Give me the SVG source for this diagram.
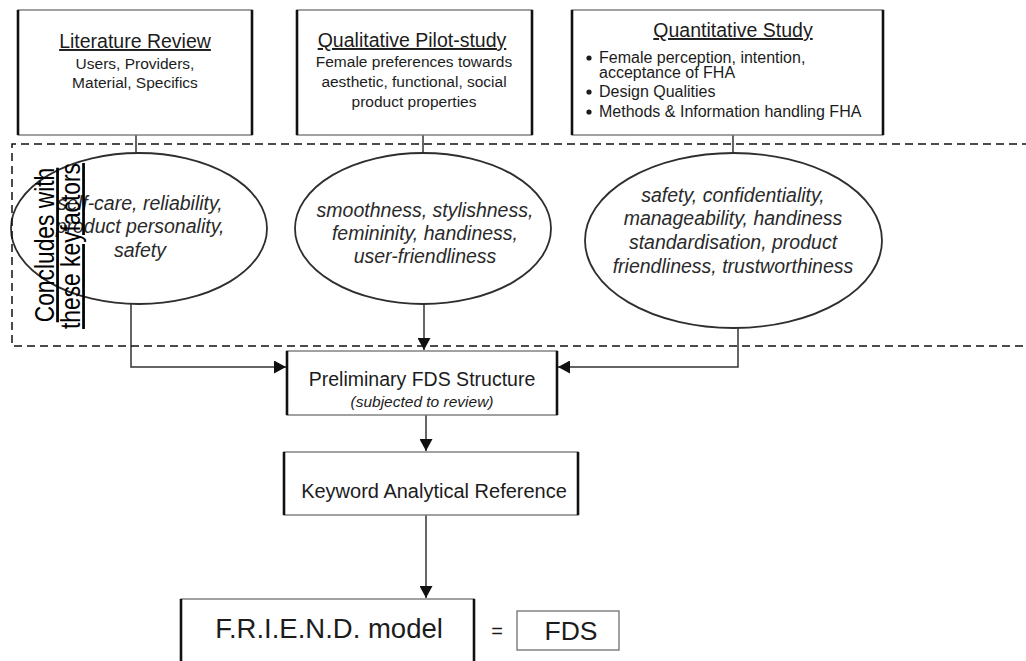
<svg xmlns="http://www.w3.org/2000/svg" width="1026" height="661" viewBox="0 0 1026 661">
  <style>
    text { font-family: "Liberation Sans", Arial, sans-serif; fill: #1c1c1c; }
    .hd { font-size: 19.5px; text-anchor: middle; text-decoration: underline; }
    .sub { font-size: 15.5px; text-anchor: middle; }
    .bl { font-size: 16px; }
    .kf { font-size: 19.5px; font-style: italic; text-anchor: middle; fill: #2a2a2a; }
    .mid { text-anchor: middle; }
    .box { fill: #fff; stroke: #7a7a7a; stroke-width: 1.4; }
    .side { stroke: #111; stroke-width: 2.6; }
    .ell { fill: #fff; stroke: #2e2e2e; stroke-width: 1.8; }
    .wire { fill: none; stroke: #333; stroke-width: 1.5; }
    .frame { fill: none; stroke: #111; stroke-width: 1.5; stroke-dasharray: 8 5; }
    .vlabel { font-size: 22.8px; fill: #000; text-anchor: middle; text-decoration: underline; }
  </style>
  <defs>
    <marker id="arrow" markerUnits="userSpaceOnUse" markerWidth="13" markerHeight="13" refX="12" refY="6.5" orient="auto">
      <path d="M0,0 L12,6.5 L0,13 Z" fill="#111"/>
    </marker>
  </defs>

  <rect width="1026" height="661" fill="#fff"/>

  <!-- connectors -->
  <g id="connectors">
    <line class="wire" x1="136" y1="135" x2="136" y2="153"/>
    <line class="wire" x1="423" y1="135" x2="423" y2="153"/>
    <line class="wire" x1="733" y1="135" x2="733" y2="153"/>
    <polyline class="wire" points="131,304 131,367 286,367" marker-end="url(#arrow)"/>
    <line class="wire" x1="424" y1="304" x2="424" y2="350" marker-end="url(#arrow)"/>
    <polyline class="wire" points="738,328 738,367 558,367" marker-end="url(#arrow)"/>
    <line class="wire" x1="426" y1="415" x2="426" y2="451" marker-end="url(#arrow)"/>
    <line class="wire" x1="426" y1="515" x2="426" y2="598" marker-end="url(#arrow)"/>
  </g>

  <!-- source boxes -->
  <g id="literature-review">
    <rect class="box" x="18" y="10" width="234" height="125"/>
    <line class="side" x1="18" y1="10" x2="18" y2="135"/>
    <line class="side" x1="252" y1="10" x2="252" y2="135"/>
    <text class="hd" x="135" y="48">Literature Review</text>
    <text class="sub" x="135" y="69">Users, Providers,</text>
    <text class="sub" x="135" y="88">Material, Specifics</text>
  </g>

  <g id="qualitative-pilot">
    <rect class="box" x="297" y="10" width="235" height="125"/>
    <line class="side" x1="297" y1="10" x2="297" y2="135"/>
    <line class="side" x1="532" y1="10" x2="532" y2="135"/>
    <text class="hd" x="412" y="47">Qualitative Pilot-study</text>
    <text class="sub" x="414" y="67">Female preferences towards</text>
    <text class="sub" x="414" y="87">aesthetic, functional, social</text>
    <text class="sub" x="414" y="107">product properties</text>
  </g>

  <g id="quantitative-study">
    <rect class="box" x="572" y="10" width="311" height="125"/>
    <line class="side" x1="572" y1="10" x2="572" y2="135"/>
    <line class="side" x1="883" y1="10" x2="883" y2="135"/>
    <text class="hd" x="733" y="37">Quantitative Study</text>
    <circle cx="589" cy="58" r="2.6" fill="#1c1c1c"/>
    <text class="bl" x="599" y="63">Female perception, intention,</text>
    <text class="bl" x="599" y="78">acceptance of FHA</text>
    <circle cx="589" cy="92" r="2.6" fill="#1c1c1c"/>
    <text class="bl" x="599" y="97">Design Qualities</text>
    <circle cx="589" cy="112" r="2.6" fill="#1c1c1c"/>
    <text class="bl" x="599" y="117">Methods &amp; Information handling FHA</text>
  </g>

  <!-- key factor ellipses -->
  <g id="factors-literature">
    <ellipse class="ell" cx="139" cy="228.5" rx="128" ry="75.5"/>
    <text class="kf" x="140" y="210">self-care, reliability,</text>
    <text class="kf" x="140" y="233">product personality,</text>
    <text class="kf" x="140" y="257">safety</text>
  </g>

  <g id="factors-qualitative">
    <ellipse class="ell" cx="423" cy="228.5" rx="128" ry="75.5"/>
    <text class="kf" x="425" y="217">smoothness, stylishness,</text>
    <text class="kf" x="425" y="240">femininity, handiness,</text>
    <text class="kf" x="425" y="263">user-friendliness</text>
  </g>

  <g id="factors-quantitative">
    <ellipse class="ell" cx="733.5" cy="240.5" rx="148.5" ry="87.5"/>
    <text class="kf" x="733" y="202">safety, confidentiality,</text>
    <text class="kf" x="733" y="225">manageability, handiness</text>
    <text class="kf" x="733" y="249">standardisation, product</text>
    <text class="kf" x="733" y="273">friendliness, trustworthiness</text>
  </g>

  <!-- dashed frame around the key factors with its vertical caption -->
  <g id="keyfactor-frame">
    <path class="frame" d="M1030,144 H12 V346 H1030"/>
    <text class="vlabel" transform="translate(54,245) rotate(-90) scale(1,1.2)">Concludes with</text>
    <text class="vlabel" transform="translate(80,246) rotate(-90) scale(1,1.2)">these keyfactors</text>
  </g>

  <!-- synthesis steps -->
  <g id="preliminary-fds">
    <rect class="box" x="287" y="351" width="270" height="64"/>
    <line class="side" x1="287" y1="351" x2="287" y2="415"/>
    <line class="side" x1="557" y1="351" x2="557" y2="415"/>
    <text class="mid" x="422" y="386" font-size="19.5">Preliminary FDS Structure</text>
    <text class="mid" x="422" y="407" font-size="15.5" font-style="italic">(subjected to review)</text>
  </g>

  <g id="keyword-reference">
    <rect class="box" x="284" y="452" width="294" height="63"/>
    <line class="side" x1="284" y1="452" x2="284" y2="515"/>
    <line class="side" x1="578" y1="452" x2="578" y2="515"/>
    <text class="mid" x="434" y="498" font-size="20">Keyword Analytical Reference</text>
  </g>

  <g id="friend-model">
    <rect class="box" x="181" y="599" width="293" height="75"/>
    <line class="side" x1="181" y1="599" x2="181" y2="661"/>
    <line class="side" x1="474" y1="599" x2="474" y2="661"/>
    <text class="mid" x="329" y="638" font-size="27.5">F.R.I.E.N.D. model</text>
  </g>

  <text class="mid" x="497" y="638" font-size="20">=</text>

  <g id="fds">
    <rect class="box" x="517" y="611" width="102" height="39" stroke="#8a8a8a"/>
    <text class="mid" x="571" y="640" font-size="26.5">FDS</text>
  </g>
</svg>
